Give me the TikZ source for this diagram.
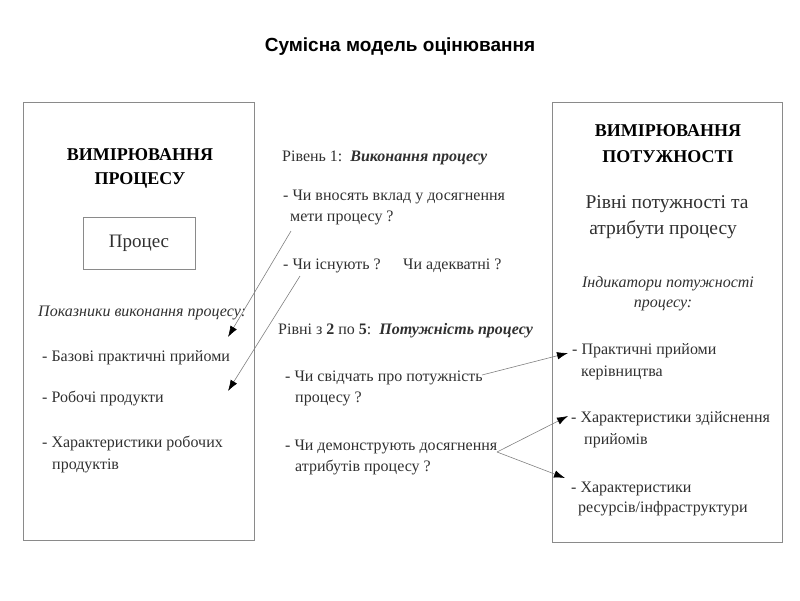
\documentclass[tikz,border=0pt]{standalone}
\usepackage{fontspec}
\setmainfont{Liberation Serif}
\newfontfamily\titlefont{Liberation Sans}
\usetikzlibrary{arrows.meta}
\definecolor{boxgray}{HTML}{8A8A8A}
\definecolor{txtgray}{HTML}{303030}
\tikzset{
  frame/.style={draw=boxgray, line width=0.9pt, inner sep=0pt},
  tx/.style={anchor=west, inner sep=0pt, text=txtgray, font=\fontsize{16}{19}\selectfont, text height=12pt, text depth=2.4pt},
  txc/.style={tx, anchor=center},
  hd/.style={anchor=center, inner sep=0pt, text=black, font=\fontsize{18}{21}\selectfont\bfseries, text height=13pt, text depth=2pt},
  big/.style={anchor=center, inner sep=0pt, text=txtgray, font=\fontsize{19.5}{24}\selectfont, text height=14pt, text depth=3pt},
  arr/.style={draw=gray, line width=0.6pt, -{Latex[length=11pt,width=7.5pt,color=black]}},
}
\begin{document}
\begin{tikzpicture}[x=1pt,y=-1pt]
\useasboundingbox (0,0) rectangle (800,600);
% title
\node[inner sep=0pt, font=\titlefont\fontsize{19}{22}\selectfont\bfseries] (title) at (400,47) {Сумісна модель оцінювання};
% boxes
\node[frame, minimum width=231pt, minimum height=438pt] (lbox) at (138.5,321) {};
\node[frame, minimum width=230pt, minimum height=440pt] (rbox) at (667,322) {};
% left box
\node[hd] (lh1) at (140,155) {ВИМІРЮВАННЯ};
\node[hd] (lh2) at (140,179) {ПРОЦЕСУ};
\node[frame, minimum width=112pt, minimum height=52pt, font=\fontsize{19}{22}\selectfont, text=txtgray] (proc) at (139,243) {Процес};
\node[tx, font=\fontsize{16}{19}\selectfont\itshape] (lp) at (38,312) {Показники виконання процесу:};
\node[tx] (l1) at (42,357) {- Базові практичні прийоми};
\node[tx] (l2) at (42,398) {- Робочі продукти};
\node[tx] (l3) at (42,443) {- Характеристики робочих};
\node[tx] (l3b) at (52,465) {продуктів};
% middle
\node[tx] (m1) at (282,157) {Рівень 1:\ \ \textbf{\textit{Виконання процесу}}};
\node[tx] (m2) at (283,196) {- Чи вносять вклад у досягнення};
\node[tx] (m2b) at (290,217) {мети процесу ?};
\node[tx] (m3) at (283,265) {- Чи існують ?};
\node[tx] (m3b) at (403,265) {Чи адекватні ?};
\node[tx] (m4) at (278,330) {Рівні з \textbf{2} по \textbf{5}:\ \ \textbf{\textit{Потужність процесу}}};
\node[tx] (m5) at (285,377) {- Чи свідчать про потужність};
\node[tx] (m5b) at (295,398) {процесу ?};
\node[tx] (m6) at (285,446) {- Чи демонструють досягнення};
\node[tx] (m6b) at (295,467) {атрибутів процесу ?};
% right box
\node[hd] (rh1) at (668,131) {ВИМІРЮВАННЯ};
\node[hd] (rh2) at (668,157) {ПОТУЖНОСТІ};
\node[big] (rb1) at (667,203) {Рівні потужності та};
\node[big] (rb2) at (663,229) {атрибути процесу};
\node[txc, font=\fontsize{16}{19}\selectfont\itshape] (ri1) at (668,283) {Індикатори потужності};
\node[txc, font=\fontsize{16}{19}\selectfont\itshape] (ri2) at (663,303) {процесу:};
\node[tx] (r1) at (572,350) {- Практичні прийоми};
\node[tx] (r1b) at (581,372) {керівництва};
\node[tx] (r2) at (571,418) {- Характеристики здійснення};
\node[tx] (r2b) at (584,440) {прийомів};
\node[tx] (r3) at (571,488) {- Характеристики};
\node[tx] (r3b) at (578,508) {ресурсів/інфраструктури};
% arrow end points
\coordinate (a1s) at (291,231);
\coordinate (a1e) at (228,337);
\coordinate (a2s) at (300,276);
\coordinate (a2e) at (228,391);
\coordinate (a3s) at (482,375);
\coordinate (a3e) at (568,353);
\coordinate (a4s) at (497,452);
\coordinate (a4e) at (568,416);
\coordinate (a5e) at (565,478);
\draw[arr] (a1s) -- (a1e);
\draw[arr] (a2s) -- (a2e);
\draw[arr] (a3s) -- (a3e);
\draw[arr] (a4s) -- (a4e);
\draw[arr] (a4s) -- (a5e);
\end{tikzpicture}
\end{document}
